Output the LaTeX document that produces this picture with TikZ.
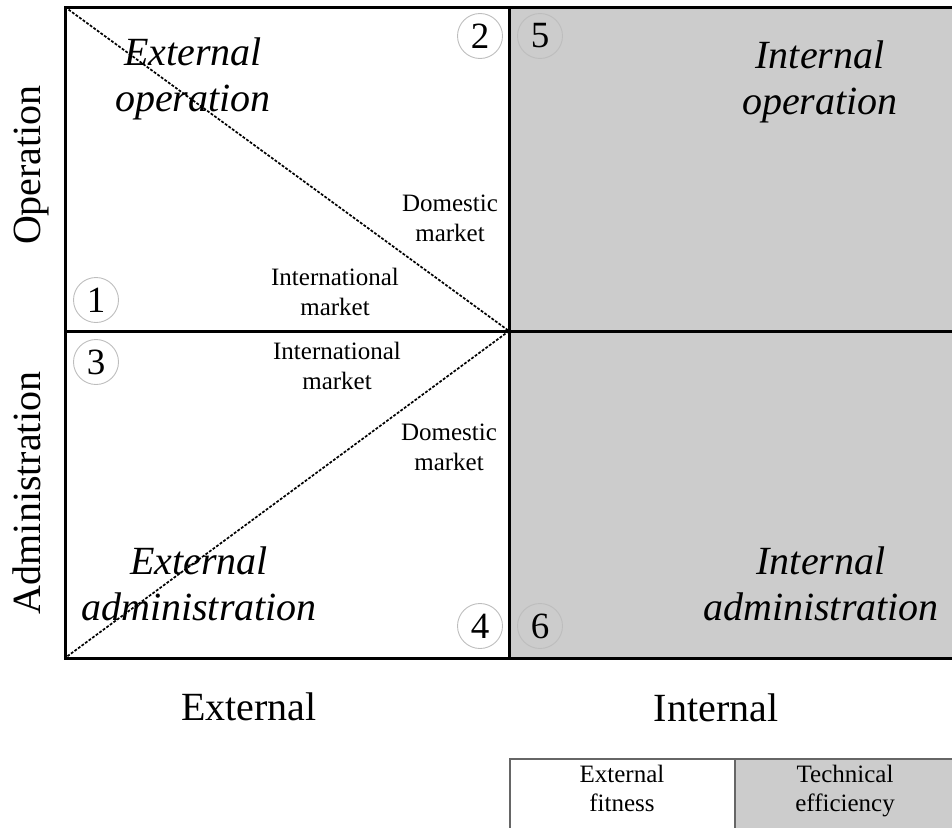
\documentclass[tikz,border=0pt]{standalone}
\usepackage{fontspec}
\setmainfont{Liberation Serif}
\definecolor{cellgray}{HTML}{CCCCCC}
\definecolor{ringgray}{HTML}{BDBDBD}
\definecolor{legendline}{HTML}{666666}
\tikzset{
  frame/.style={line width=3pt, black},
  diag/.style={line width=1.7pt, dash pattern=on 2.8pt off 1.6pt},
  bigital/.style={inner sep=0pt, align=center, anchor=north, font=\fontsize{40}{46}\selectfont\itshape},
  small/.style={inner sep=0pt, align=center, anchor=north, font=\fontsize{25}{30}\selectfont},
  axislab/.style={inner sep=0pt, anchor=base, font=\fontsize{40}{46}\selectfont},
  ring/.style={circle, draw=ringgray, line width=0.9pt, minimum size=45pt, inner sep=0pt, font=\fontsize{37}{37}\selectfont},
  legtext/.style={inner sep=0pt, align=center, anchor=north, font=\fontsize{25}{29}\selectfont},
}
\begin{document}
\begin{tikzpicture}[x=1pt,y=-1pt]
\useasboundingbox (0,0) rectangle (952,827);
\clip (0,0) rectangle (952,827);
% corner coordinates
\coordinate (TL) at (65,7);
\coordinate (TM) at (509,7);
\coordinate (TR) at (960,7);
\coordinate (ML) at (65,331);
\coordinate (C)  at (509,331);
\coordinate (MR) at (960,331);
\coordinate (BL) at (65,658);
\coordinate (BM) at (509,658);
\coordinate (BR) at (960,658);
% gray internal half
\fill[cellgray] (TM) rectangle (BR);
% circles
\node[ring] (n1) at (96,300) {1};
\node[ring] (n3) at (96,362) {3};
\node[ring] (n2) at (480,36) {2};
\node[ring, fill=cellgray] (n5) at (540,36) {5};
\node[ring] (n4) at (480,626) {4};
\node[ring, fill=cellgray] (n6) at (540,626) {6};
% diagonals
\draw[diag] (TL) -- (C);
\draw[diag] (C) -- (BL);
% frame
\draw[frame] (TL) rectangle (BR);
\draw[frame] (TM) -- (BM);
\draw[frame] (ML) -- (MR);
% quadrant labels
\node[bigital] (eo) at (193,38) {External\\operation};
\node[bigital] (io) at (820,41) {Internal\\operation};
\node[bigital] (ea) at (199,547) {External\\administration};
\node[bigital] (ia) at (821,547) {Internal\\administration};
% market labels
\node[small] (dm1) at (450,195) {Domestic\\market};
\node[small] (im1) at (335,268) {International\\market};
\node[small] (im2) at (337,342) {International\\market};
\node[small] (dm2) at (449,424) {Domestic\\market};
% axis labels
\node[axislab, rotate=90] (op) at (40,165) {Operation};
\node[axislab, rotate=90] (ad) at (40,493) {Administration};
\node[axislab] (ext) at (249,720) {External};
\node[axislab] (int) at (716,721) {Internal};
% legend
\coordinate (LTL) at (510,759);
\coordinate (LTM) at (735,759);
\coordinate (LBM) at (735,840);
\coordinate (LBR) at (960,840);
\fill[cellgray] (LTM) rectangle (LBR);
\draw[legendline, line width=1.4pt] (LTL) rectangle (LBR);
\draw[legendline, line width=1.4pt] (LTM) -- (LBM);
\node[legtext] (lf) at (622,765) {External\\fitness};
\node[legtext] (le) at (845,765) {Technical\\efficiency};
\end{tikzpicture}
\end{document}
